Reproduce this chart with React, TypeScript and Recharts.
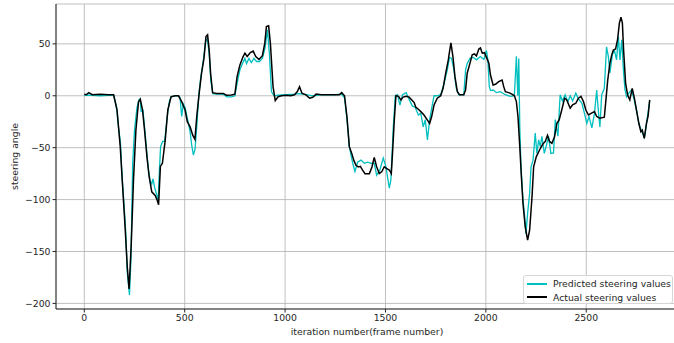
import React from "react";
import {
  LineChart,
  Line,
  XAxis,
  YAxis,
  CartesianGrid,
  Legend,
  Label,
} from "recharts";

// frame index and steering angle of the recorded (actual) run
const actualFrames = [
  0, 10, 22, 40, 80, 120, 146, 163, 179, 191, 204, 214, 223, 234, 245, 257,
  270, 279, 290, 300, 312, 323, 336, 353, 362, 370, 379, 389, 403, 416, 432,
  452, 469, 485, 502, 513, 527, 540, 551, 560, 573, 584, 596, 606, 614, 622,
  629, 639, 659, 692, 708, 733, 750, 761, 775, 791, 800, 811, 827, 841, 854,
  870, 887, 899, 907, 918, 927, 940, 951, 965, 982, 1006, 1028, 1047, 1061,
  1072, 1084, 1104, 1122, 1138, 1155, 1180, 1213, 1246, 1270, 1282, 1296,
  1308, 1320, 1332, 1342, 1353, 1365, 1375, 1386, 1398, 1411, 1420, 1433,
  1444, 1456, 1469, 1482, 1494, 1505, 1519, 1529, 1535, 1544, 1552, 1565,
  1577, 1588, 1603, 1618, 1631, 1643, 1651, 1664, 1676, 1692, 1709, 1720,
  1730, 1742, 1758, 1775, 1787, 1800, 1813, 1819, 1826, 1836, 1846, 1858,
  1869, 1890, 1899, 1907, 1921, 1932, 1943, 1953, 1965, 1973, 1982, 1993,
  2003, 2015, 2023, 2036, 2048, 2064, 2081, 2089, 2097, 2114, 2130, 2142,
  2152, 2160, 2169, 2177, 2185, 2196, 2208, 2218, 2230, 2238, 2251, 2268,
  2284, 2296, 2307, 2317, 2329, 2342, 2354, 2365, 2378, 2392, 2403, 2420,
  2432, 2448, 2461, 2474, 2486, 2498, 2511, 2524, 2541, 2552, 2568, 2590,
  2598, 2607, 2618, 2627, 2635, 2646, 2656, 2665, 2673, 2680, 2686, 2696,
  2706, 2717, 2729, 2739, 2750, 2762, 2772, 2779, 2789, 2800, 2808, 2816,
];
const actualValues = [
  1.5, 1, 3, 1, 1.5, 1, 1, -13.7, -49, -88, -129.5, -165, -186, -142, -81,
  -33, -5.7, -3.4, -13.7, -33, -59, -78, -92.5, -96, -100, -105, -68, -65,
  -42.7, -13.7, -1, 0, 0, -5.7, -13.7, -25, -30, -38, -42, -20, 4, 21.7, 36,
  57, 58.7, 44, 21.7, 3, 2.3, 2.3, 0.6, 0.7, 1.6, 18.5, 29.7, 37.8, 41, 37.8,
  41.6, 43, 37.8, 35, 38.6, 50.7, 66.7, 67.4, 50, 8.8, -4.7, -0.9, 0, 0.6, 0,
  0.9, 4, 8.8, 2.4, 0.9, -2.4, -1.5, 1.6, 0.9, 0.9, 0.9, 0.9, 3, 0, -20, -49,
  -55.5, -62, -67, -68.5, -68, -71.6, -75, -75, -75, -68.4, -59.4, -68.4, -75,
  -73, -68.4, -70, -71.5, -75, -55.5, -23.4, 0, -0.6, -4, -1.3, -0.6, -1.3,
  -4, -6.6, -11, -13, -15.3, -18.5, -23.4, -26.6, -20, -8.9, -2.4, 0, 7.2,
  21.7, 34.5, 42.6, 51, 37.8, 18.4, 4, 1, 1, 5.6, 21.7, 31.4, 39.4, 40.3,
  38.4, 45, 46, 41, 41.5, 37, 31.4, 20, 10.4, 11, 13.6, 15.2, 8.8, 4, 3, 1.6,
  0, -5.6, -20, -49, -78, -104, -126, -139, -129.5, -97, -68.4, -58.8, -52,
  -46.5, -44, -38, -44, -45.8, -39.4, -26.5, -23.3, -13.7, -2.4, -4, -12,
  -8.8, -7.2, -2.4, -0.6, -5.5, -13.7, -18.5, -17, -15.3, -20, -21.7, -20.7,
  -4, 15.2, 31.4, 39.4, 44, 45, 54, 70, 75.8, 70, 44, 12, 0.8, -4, 7.2, -1.5,
  -13.7, -26.5, -34.6, -33, -41, -26.5, -19.5, -4,
];

// frame index and steering angle predicted by the model
const predictedFrames = [
  0, 40, 80, 120, 146, 160, 170, 180, 188, 198, 206, 214, 225, 232, 241, 250,
  262, 272, 278, 283, 292, 300, 310, 320, 328, 336, 342, 350, 360, 368, 374,
  380, 390, 400, 413, 424, 432, 452, 469, 477, 485, 493, 502, 519, 527, 535,
  543, 551, 560, 570, 580, 592, 604, 613, 622, 630, 640, 659, 692, 710, 733,
  750, 761, 775, 788, 800, 808, 820, 832, 845, 858, 872, 887, 900, 912, 922,
  932, 945, 965, 1006, 1047, 1072, 1104, 1138, 1180, 1246, 1282, 1296, 1308,
  1320, 1337, 1348, 1361, 1378, 1395, 1411, 1428, 1444, 1456, 1472, 1489,
  1502, 1519, 1527, 1539, 1549, 1560, 1572, 1585, 1603, 1618, 1634, 1648,
  1664, 1676, 1688, 1698, 1709, 1720, 1733, 1742, 1758, 1775, 1792, 1808,
  1819, 1829, 1841, 1853, 1866, 1890, 1899, 1907, 1921, 1937, 1953, 1973,
  1990, 2003, 2010, 2017, 2023, 2036, 2053, 2072, 2097, 2122, 2142, 2152,
  2159, 2164, 2169, 2175, 2185, 2192, 2200, 2208, 2218, 2225, 2235, 2246,
  2254, 2263, 2271, 2279, 2291, 2300, 2312, 2324, 2337, 2346, 2359, 2370,
  2381, 2395, 2408, 2420, 2432, 2448, 2461, 2478, 2491, 2503, 2514, 2528,
  2541, 2552, 2560, 2568, 2577, 2590, 2601, 2610, 2618, 2630, 2640, 2651,
  2660, 2668, 2677, 2685, 2693, 2701, 2712, 2725, 2739, 2750, 2762, 2775,
  2790, 2800, 2816,
];
const predictedValues = [
  0.5, 0.5, 0, 0.5, 0.5, -10, -30, -45, -78, -105, -130, -170, -192, -160,
  -65, -33, -12, -4, -3, -15, -14, -30, -52, -72, -82, -85, -80, -88, -95,
  -100, -72, -49, -44, -44, -20, -5, -1, 0, 0, -2, -20, -8, -11.6, -27, -35,
  -47.5, -57, -52, -30, 0, 18, 33, 52, 55, 40, 15, 2, 1.5, 1.5, -1, -1, 0, 12,
  25, 31, 36, 31, 36, 32, 36, 33, 33, 36, 46, 63.5, 40, 4, 0, 0.5, 1, 1.5, 2,
  1, 0, 1, 1, 1.5, -2, -22, -49, -65, -73, -64, -62, -65, -64, -65, -65,
  -76.5, -71.5, -60, -68, -89, -81, -30, 0, 1, -9, 1, 3, -3.5, -10, -11,
  -18.5, -17, -30, -23, -42.5, -23, -9, 0, 0, 1, 12, 25, 37, 36, 25, 7, 1, 1,
  25, 31, 36, 37, 34.6, 37.8, 35, 43.6, 34.6, 9, 5, 5.5, 3, 4, 1, -0.6, 0, 38,
  0, 36, -30, -68.4, -100.5, -113.5, -133, -113, -94, -68.4, -62, -36, -55.5,
  -42.5, -49, -39, -55.5, -49, -39, -55.5, -55, -23, -39, 1, -5, 1, -6, 0, -5,
  2.5, -3, -7, -17, -26.5, -20, -31, -17, 5.6, -13.7, -30, 1, 7, 47, 38, 22,
  39.4, 44, 34.6, 57, 34.6, 54, 25, 5.6, -1, 2.5, 5.6, -4, -13.7, -27, -34,
  -40, -27, -5,
];

const xTicks = [0, 500, 1000, 1500, 2000, 2500];
const yTicks = [-200, -150, -100, -50, 0, 50];

const predictedData = predictedFrames.map((frame, i) => ({
  frame,
  angle: predictedValues[i],
}));
const actualData = actualFrames.map((frame, i) => ({
  frame,
  angle: actualValues[i],
}));

const FONT = "'DejaVu Sans', sans-serif";
const FONT_SIZE = 9.3;
const INK = "#262626";
const tickStyle = { fontSize: FONT_SIZE, fontFamily: FONT, fill: INK };
const minus = (v: number) => String(v).replace("-", "\u2212");

const legendItems = [
  { label: "Predicted steering values", color: "#00bfbf" },
  { label: "Actual steering values", color: "#000000" },
];

const LegendBox = () => (
  <div
    style={{
      boxSizing: "border-box",
      width: 150,
      height: 29,
      padding: "1px 0 0 3px",
      border: "1px solid #d6d6d6",
      borderRadius: 3,
      background: "rgba(255,255,255,0.85)",
      fontFamily: FONT,
      fontSize: FONT_SIZE,
      color: INK,
    }}
  >
    {legendItems.map((item) => (
      <div
        key={item.label}
        style={{
          display: "flex",
          alignItems: "center",
          height: 13.5,
          whiteSpace: "nowrap",
        }}
      >
        <span
          style={{
            display: "inline-block",
            width: 20,
            height: 2,
            background: item.color,
            marginRight: 6,
          }}
        />
        {item.label}
      </div>
    ))}
  </div>
);

export default function App() {
  return (
    <div
      style={{
        position: "fixed",
        left: 0,
        top: 0,
        width: 674,
        height: 343,
        overflow: "hidden",
        background: "#fff",
      }}
    >
      <LineChart
        width={680}
        height={343}
        margin={{ top: 4, right: 2, bottom: 0, left: 0 }}
      >
        <CartesianGrid stroke="#b0b0b0" strokeWidth={0.8} />
        <XAxis
          dataKey="frame"
          type="number"
          domain={[-141, 2957]}
          allowDataOverflow
          ticks={xTicks}
          height={34}
          tickSize={3.5}
          tickMargin={2}
          tick={tickStyle}
          stroke={INK}
          interval={0}
        >
          <Label
            content={({ viewBox }: any) => (
              <text
                x={viewBox.x + viewBox.width / 2}
                y={viewBox.y + 22}
                textAnchor="middle"
                dominantBaseline="central"
                style={{ fontSize: FONT_SIZE, fontFamily: FONT, fill: INK }}
              >
                iteration number(frame number)
              </text>
            )}
          />
        </XAxis>
        <XAxis
          xAxisId="top"
          orientation="top"
          type="number"
          domain={[-141, 2957]}
          height={0}
          tick={false}
          tickLine={false}
          stroke={INK}
        />
        <YAxis
          type="number"
          domain={[-205.4, 88.4]}
          allowDataOverflow
          ticks={yTicks}
          width={56}
          tickSize={3.5}
          tickMargin={2}
          tick={tickStyle}
          tickFormatter={minus}
          stroke={INK}
          interval={0}
        >
          <Label
            content={({ viewBox }: any) => {
              const x = 14;
              const y = viewBox.y + viewBox.height / 2;
              return (
                <text
                  x={x}
                  y={y}
                  transform={`rotate(-90 ${x} ${y})`}
                  textAnchor="middle"
                  dominantBaseline="central"
                  style={{ fontSize: FONT_SIZE, fontFamily: FONT, fill: INK }}
                >
                  steering angle
                </text>
              );
            }}
          />
        </YAxis>
        <Legend
          layout="vertical"
          align="center"
          verticalAlign="middle"
          wrapperStyle={{ left: 523, top: 275, width: 150, height: 29 }}
          content={() => <LegendBox />}
        />
        <Line
          data={predictedData}
          dataKey="angle"
          name="Predicted steering values"
          type="linear"
          stroke="#00bfbf"
          strokeWidth={1.3}
          dot={false}
          isAnimationActive={false}
        />
        <Line
          data={actualData}
          dataKey="angle"
          name="Actual steering values"
          type="linear"
          stroke="#000000"
          strokeWidth={1.5}
          dot={false}
          isAnimationActive={false}
        />
      </LineChart>
    </div>
  );
}
